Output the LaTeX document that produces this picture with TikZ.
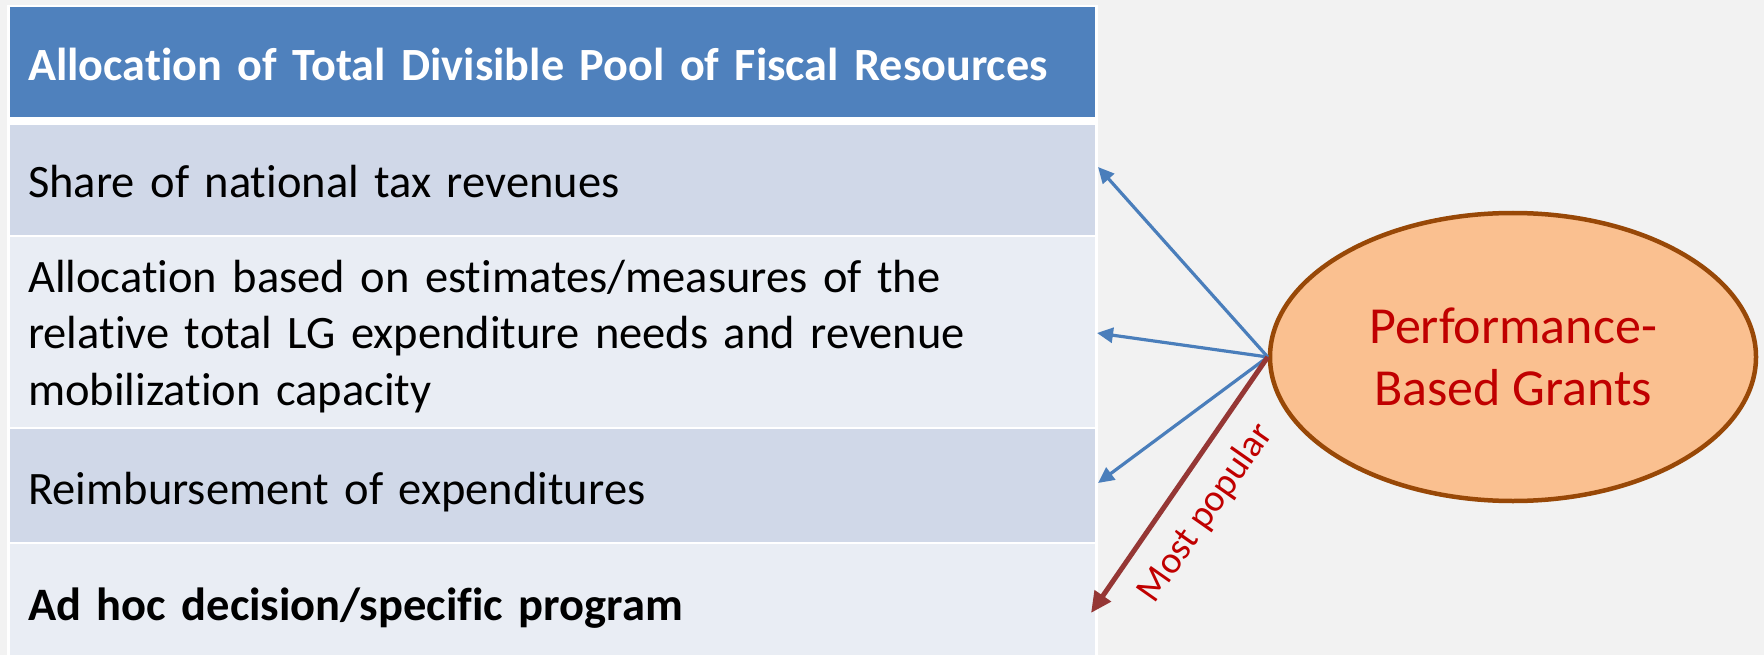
\documentclass[tikz,border=0pt]{standalone}
\usepackage{fontspec}
\setmainfont{Carlito}[Ligatures=NoCommon]
\usetikzlibrary{arrows.meta,shapes.geometric}
\definecolor{bg}{HTML}{F2F2F2}
\definecolor{hdr}{HTML}{4F81BD}
\definecolor{rowA}{HTML}{D0D8E8}
\definecolor{rowB}{HTML}{E9EDF4}
\definecolor{ellfill}{HTML}{FAC090}
\definecolor{elldraw}{HTML}{984807}
\definecolor{txtred}{HTML}{C00000}
\definecolor{arrblue}{HTML}{4A7EBB}
\definecolor{arrred}{HTML}{953735}
\begin{document}
\begin{tikzpicture}[x=1pt,y=-1pt,
  cell/.style={anchor=north west, minimum width=1085pt, text width=1049pt,
    inner xsep=18pt, inner ysep=0pt, align=left, draw=none,
    font=\fontsize{46.5}{56.7}\selectfont},
  hdrcell/.style={cell, fill=hdr, text=white, font=\fontsize{46.2}{56.7}\selectfont\bfseries},
  bluearrow/.style={draw=arrblue, line width=3.2pt, -{Triangle[length=16pt,width=15pt]}},
  redarrow/.style={draw=arrred, line width=5pt, -{Triangle[length=21pt,width=19pt]}},
  pbgstyle/.style={ellipse, draw=elldraw, line width=4.5pt, fill=ellfill,
    minimum width=486pt, minimum height=288pt, inner sep=0pt, align=center,
    text=txtred, font=\fontsize{52}{62}\selectfont},
  poplabel/.style={text=txtred, font=\fontsize{38}{38}\selectfont, inner sep=0pt}
]
\useasboundingbox (0,0) rectangle (1764,655);
\fill[bg] (0,0) rectangle (1764,655);
\fill[white] (7,5) rectangle (1098,655);
\node[hdrcell, minimum height=110pt, text height=47pt, text depth=10pt] (hd) at (10,7) {Allocation of Total Divisible Pool of Fiscal Resources};
\node[cell, fill=rowA, minimum height=110pt, text height=46pt, text depth=12pt] (r1) at (10,125) {Share of national tax revenues};
\node[cell, fill=rowB, minimum height=190pt, text height=45pt, text depth=125pt] (r2) at (10,237) {Allocation based on estimates/measures of the\\relative total LG expenditure needs and revenue\\mobilization capacity};
\node[cell, fill=rowA, minimum height=113pt, text height=49pt, text depth=12pt] (r3) at (10,429) {Reimbursement of expenditures};
\node[cell, fill=rowB, minimum height=111pt, text height=53pt, text depth=12pt] (r4) at (10,544) {\bfseries Ad hoc decision/specific program};
\node[pbgstyle] (pbg) at (1513,357) {Performance-\\Based Grants};
\coordinate (t1) at (1098,167);
\coordinate (t2) at (1097,333);
\coordinate (t3) at (1098,483);
\coordinate (t4) at (1091,613);
\draw[bluearrow] (pbg.west) -- (t1);
\draw[bluearrow] (pbg.west) -- (t2);
\draw[bluearrow] (pbg.west) -- (t3);
\draw[redarrow] (pbg.west) -- (t4);
\node[poplabel, rotate=55] (mp) at (1206,513) {Most popular};
\end{tikzpicture}
\end{document}
